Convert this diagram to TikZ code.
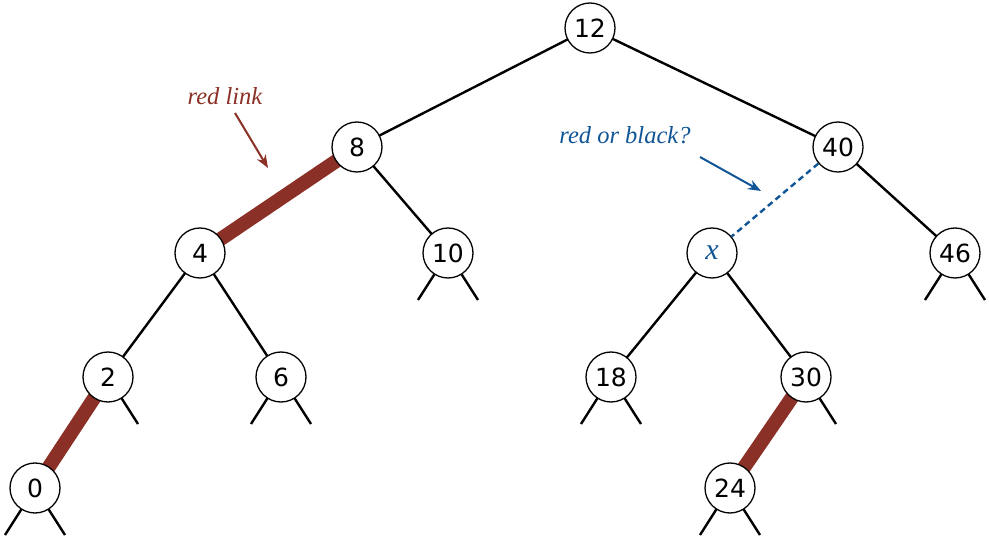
\documentclass[tikz,border=0pt]{standalone}
\usepackage{fontspec}
\setmainfont{Liberation Serif}
\newfontfamily\numfont{DejaVu Sans}
\usetikzlibrary{arrows.meta}
\definecolor{redlink}{RGB}{139,48,38}
\definecolor{annblue}{RGB}{16,85,150}
\begin{document}
\begin{tikzpicture}[x=1pt,y=-1pt,
  keynode/.style={circle,draw=black,line width=1.3pt,fill=white,minimum size=50pt,inner sep=0pt,font=\numfont\fontsize{25}{25}\selectfont},
  blacklink/.style={line width=2.4pt,black},
  redlnk/.style={line width=14pt,redlink},
  stub/.style={line width=2.4pt,black},
  ann/.style={font=\itshape\fontsize{24.5}{24.5}\selectfont},
  annarrow/.style={line width=2pt,-{Stealth[length=13pt,width=10pt]}}]
\useasboundingbox (0,0) rectangle (989,537);

% key positions
\coordinate (c12) at (590,28);
\coordinate (c8) at (357,147);
\coordinate (c40) at (838,147);
\coordinate (c4) at (200,253);
\coordinate (c10) at (448,253);
\coordinate (cx) at (712,253);
\coordinate (c46) at (955,253);
\coordinate (c2) at (108,377);
\coordinate (c6) at (281,377);
\coordinate (c18) at (611,377);
\coordinate (c30) at (806,377);
\coordinate (c0) at (35,488);
\coordinate (c24) at (730,488);

% links (drawn first, nodes cover their ends)
\draw[blacklink] (c12) -- (c8);
\draw[blacklink] (c12) -- (c40);
\draw[redlnk] (c8) -- (c4);
\draw[blacklink] (c8) -- (c10);
\draw[blacklink] (c40) -- (c46);
\draw[blacklink] (c4) -- (c2);
\draw[blacklink] (c4) -- (c6);
\draw[blacklink] (cx) -- (c18);
\draw[blacklink] (cx) -- (c30);
\draw[redlnk] (c2) -- (c0);
\draw[redlnk] (c30) -- (c24);

% null-link stubs
\foreach \c/\l/\r in {c10/1/1, c46/1/1, c2/0/1, c6/1/1, c18/1/1, c30/0/1, c0/1/1, c24/1/1}{
  \ifnum\l=1 \draw[stub] (\c) -- ++(-30,47); \fi
  \ifnum\r=1 \draw[stub] (\c) -- ++(30,47); \fi
}

% keys
\node[keynode] (n12) at (c12) {12};
\node[keynode] (n8) at (c8) {8};
\node[keynode] (n40) at (c40) {40};
\node[keynode] (n4) at (c4) {4};
\node[keynode] (n10) at (c10) {10};
\node[keynode] (nx) at (cx) {\color{annblue}\rmfamily\itshape\fontsize{30}{30}\selectfont x};
\node[keynode] (n46) at (c46) {46};
\node[keynode] (n2) at (c2) {2};
\node[keynode] (n6) at (c6) {6};
\node[keynode] (n18) at (c18) {18};
\node[keynode] (n30) at (c30) {30};
\node[keynode] (n0) at (c0) {0};
\node[keynode] (n24) at (c24) {24};

% link of unknown colour
\draw[annblue,line width=2.4pt,dash pattern=on 6pt off 4pt] (n40) -- (nx);

% annotations
\node[ann,text=redlink] (lblred) at (225,96) {red link};
\coordinate (tipred) at (268,168);
\draw[annarrow,redlink] (235,113) -- (tipred);
\node[ann,text=annblue] (lblq) at (625,135) {red or black?};
\coordinate (tipq) at (761,191);
\draw[annarrow,annblue] (700,157) -- (tipq);
\end{tikzpicture}
\end{document}
